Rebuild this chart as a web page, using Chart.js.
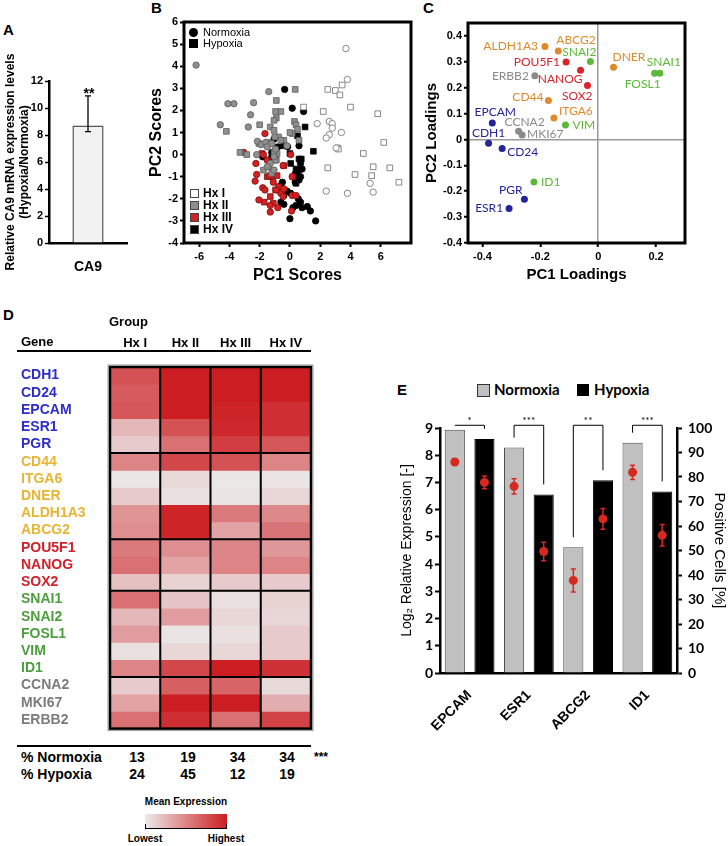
<!DOCTYPE html>
<html>
<head>
<meta charset="utf-8">
<script src="https://cdn.jsdelivr.net/npm/chart.js@4.4.1/dist/chart.umd.min.js"></script>
<style>
body{margin:0;width:728px;height:846px;position:relative;background:#fff;font-family:'Liberation Sans',Arial,sans-serif;overflow:hidden}
canvas{position:absolute}
.t{position:absolute;white-space:nowrap;line-height:1;color:#000}
.b{font-weight:bold}
</style>
</head>
<body>
<div class="t b" style="left:3px;top:22px;font-size:15px">A</div>
<div class="t b" style="left:151px;top:0px;font-size:15px">B</div>
<div class="t b" style="left:423px;top:0px;font-size:15px">C</div>
<div class="t b" style="left:3px;top:307px;font-size:15px">D</div>
<div class="t b" style="left:397px;top:382px;font-size:15px">E</div>

<canvas id="cA" width="130" height="260" style="left:0;top:30px"></canvas>
<canvas id="cB" width="280" height="280" style="left:140px;top:10px"></canvas>
<canvas id="cC" width="300" height="280" style="left:412px;top:10px"></canvas>
<canvas id="cD" width="330" height="420" style="left:0;top:320px"></canvas>
<canvas id="cE" width="348" height="330" style="left:380px;top:405px"></canvas>

<!-- B legends -->
<div style="position:absolute;left:189px;top:28px;width:9px;height:9px;border-radius:50%;background:#000"></div>
<div class="t" style="left:203px;top:27px;font-size:11px">Normoxia</div>
<div style="position:absolute;left:189px;top:39px;width:9px;height:9px;background:#000"></div>
<div class="t" style="left:203px;top:38px;font-size:11px">Hypoxia</div>
<div id="hxLegend"></div>

<!-- D header and table -->
<div class="t b" style="left:109px;top:315px;font-size:13px">Group</div>
<div class="t b" style="left:21px;top:335px;font-size:13px">Gene</div>
<div style="position:absolute;left:17px;top:350px;width:294px;height:2px;background:#000"></div>
<div style="position:absolute;left:17px;top:745px;width:294px;height:2px;background:#000"></div>
<div id="pctRows"></div>
<div class="t b" style="left:314px;top:751px;font-size:12px">***</div>
<div class="t b" style="left:126px;top:797px;width:120px;text-align:center;font-size:10px">Mean Expression</div>
<div style="position:absolute;left:145px;top:814px;width:82px;height:14px;background:linear-gradient(to right,rgb(236,234,234),rgb(204,30,34))"></div>
<div style="position:absolute;left:145px;top:828px;width:82px;height:1px;background:#000"></div>
<div style="position:absolute;left:145px;top:824px;width:1px;height:5px;background:#000"></div>
<div style="position:absolute;left:226px;top:824px;width:1px;height:5px;background:#000"></div>
<div class="t b" style="left:115px;top:834px;width:60px;text-align:center;font-size:10px">Lowest</div>
<div class="t b" style="left:196px;top:834px;width:60px;text-align:center;font-size:10px">Highest</div>

<!-- E legend -->
<div style="position:absolute;left:477px;top:384px;width:11px;height:11px;background:#c0c0c0;border:1px solid #333"></div>
<div class="t b" style="left:494px;top:382px;font-size:15px;font-family:Lato,sans-serif">Normoxia</div>
<div style="position:absolute;left:577px;top:384px;width:12px;height:12px;background:#000"></div>
<div class="t b" style="left:594px;top:382px;font-size:15px;font-family:Lato,sans-serif">Hypoxia</div>

<script>
// ---------- A: CA9 ----------
var caLabels = ['CA9']
var caValue = [8.7]
var caErrLow = [8.25]
var caErrHigh = [10.9]
var caSig = ['**']
var aTicks = [0, 2, 4, 6, 8, 10, 12]

// ---------- B: PCA scores (Normoxia = circles, Hypoxia = squares) ----------
var bXTicks = [-6, -4, -2, 0, 2, 4, 6]
var bYTicks = [-4, -3, -2, -1, 0, 1, 2, 3, 4, 5, 6]
var hx1Normoxia = [[3.7,4.8],[3.8,3.4],[1.8,1.4],[2.6,1.5],[2.8,1.4],[2.8,1.2],[3.4,1.0],[2.6,0.9],[2.4,0.75],[3.05,0.3],[2.4,-1.65],[3.8,-1.75],[5.3,-1.3],[5.5,-1.7]]
var hx1Hypoxia = [[0.9,2.15],[2.2,1.95],[2.5,2.95],[3.0,2.9],[3.3,2.7],[3.45,3.15],[4.0,2.15],[3.15,0.3],[3.2,0.25],[2.5,-0.6],[4.3,-0.9],[4.85,0.05],[5.8,1.85],[6.2,0.55],[5.5,-0.55],[6.6,-0.6],[5.4,-0.95],[7.2,-1.25]]
var hx2Normoxia = [[-6.2,4.05],[-4.6,1.35],[-4.1,2.3],[-3.7,2.3],[-2.4,2.35],[-2.6,1.8],[-2.75,1.25],[-1.4,2.85],[-2.15,0.6],[-1.9,0.45],[-2.2,0],[-1.6,0.55],[-1.5,0.35],[-1.2,0.5],[-0.95,0.25],[-1.3,-0.4],[-1.5,-0.55],[-1.05,-0.7],[-0.95,-0.25],[-0.2,0.4],[-0.6,0.65],[-1.05,-0.1]]
var hx2Hypoxia = [[-4.2,1.05],[-3.3,0.1],[-2.85,0],[-2.0,1.35],[-1.3,1.25],[-1.05,1.1],[-0.9,2.45],[-0.9,1.65],[-0.6,1.95],[-0.95,1.95],[-1.05,1.55],[0.35,2.95],[0.3,1.5],[0.4,1.35],[0.5,1.15],[0.15,0.95],[0,1.0],[-0.75,0.8],[-1.0,0.8],[0.6,0.65],[-1.5,0.55],[-2.05,0.5],[-1.4,-0.55],[-0.9,-0.25],[-0.85,0.05],[-1.05,0.1],[-1.2,-0.85],[-1.75,-0.7],[-0.4,0.65]]
var hx3Normoxia = [[-3.05,0.1],[-1.65,0.95],[-2.25,-0.4],[-2.2,-0.9],[-2.3,-1.2],[-1.8,-1.5],[-1.65,-1.6],[-2.05,-2.05],[-1.5,-0.25],[-1.75,0],[-1.3,-2.3],[-1.3,-2.6],[-0.8,-2.4],[-0.6,-1.75],[-0.45,-1.9],[-0.9,-1.6],[-0.4,-1.55],[0.05,0],[0.15,-1.85],[0.1,-2.55],[0.4,-1.85],[-1.1,-1.25],[-1.35,-0.95],[-0.45,-0.5],[0.15,-1.0]]
var hx3Hypoxia = [[-1.15,-1.0],[-1.5,-1.0],[-0.85,-0.95],[-0.95,-1.6],[-0.75,-1.45],[-0.5,-1.7],[-1.3,-1.9],[-0.4,-0.5],[0.2,-1.0],[-1.85,0.05],[-1.1,-2.2],[-1.7,-2.15]]
var hx4Normoxia = [[-0.35,2.95],[0.15,2.1],[0.9,1.95],[-1.05,0.7],[-1.2,0.1],[-0.8,0.35],[-0.95,0],[0.6,0.4],[-0.15,0.35],[0.7,-0.4],[0.8,-0.65],[0.6,-0.7],[0.5,-0.95],[0.6,-1.15],[0.7,-1.0],[0.35,-1.25],[-0.5,-1.25],[-0.6,-1.4],[-0.4,-1.85],[-0.2,-1.65],[0.05,-1.75],[0.55,-2.0],[0.7,-2.15],[0.8,-2.4],[1.15,-2.35],[1.35,-2.55],[1.7,-3.0],[0,-2.9],[0.4,-2.3],[0.2,-2.4],[-0.6,-2.15],[-1.8,-0.1],[-1.2,-0.1],[-0.4,-2.25]]
var hx4Hypoxia = [[1.0,1.25],[0.5,0.85],[-0.45,0.4],[0,0.05],[0.6,-0.2],[0.75,-0.2],[1.55,0.15],[0.05,-0.4],[0.35,-0.9],[0.45,-1.05],[0.4,-1.3],[0.4,-0.65]]
var hxNames = ['Hx I', 'Hx II', 'Hx III', 'Hx IV']

// ---------- C: PCA loadings ----------
var cGenes = ['ALDH1A3','ABCG2','SNAI2','POU5F1','NANOG','SOX2','ERBB2','CD44','ITGA6','VIM','CCNA2','MKI67','EPCAM','CDH1','CD24','ID1','PGR','ESR1','DNER','SNAI1','FOSL1']
var cPc1 = [-0.184,-0.138,-0.027,-0.111,-0.061,-0.037,-0.219,-0.172,-0.153,-0.113,-0.275,-0.263,-0.366,-0.379,-0.332,-0.222,-0.255,-0.308,0.053,0.213,0.195]
var cPc2 = [0.359,0.342,0.301,0.299,0.267,0.209,0.246,0.151,0.083,0.056,0.032,0.017,0.064,-0.015,-0.035,-0.164,-0.231,-0.267,0.279,0.256,0.256]
var cGroup = [1,1,3,2,2,2,4,1,1,3,4,4,0,0,0,3,0,0,1,3,3]
var cXTicks = [-0.4, -0.2, 0, 0.2]
var cYTicks = [-0.4, -0.3, -0.2, -0.1, 0, 0.1, 0.2, 0.3, 0.4]

// ---------- D: heatmap ----------
var genes = ['CDH1','CD24','EPCAM','ESR1','PGR','CD44','ITGA6','DNER','ALDH1A3','ABCG2','POU5F1','NANOG','SOX2','SNAI1','SNAI2','FOSL1','VIM','ID1','CCNA2','MKI67','ERBB2']
var geneGroup = [0,0,0,0,0,1,1,1,1,1,2,2,2,3,3,3,3,3,4,4,4]
var groups = ['Hx I', 'Hx II', 'Hx III', 'Hx IV']
var heatHxI = [0.75,0.7,0.72,0.25,0.15,0.5,0.02,0.15,0.42,0.45,0.55,0.6,0.2,0.6,0.25,0.38,0.05,0.5,0.15,0.35,0.6]
var heatHxII = [1,1,1,0.75,0.6,0.8,0.08,0.05,0.97,0.97,0.45,0.35,0.12,0.18,0.38,0.03,0.1,0.8,0.68,1,0.92]
var heatHxIII = [1,1,0.97,0.95,0.85,0.75,0.02,0.03,0.55,0.35,0.5,0.5,0.15,0.05,0.1,0.05,0.1,1,0.65,1,0.6]
var heatHxIV = [1,1,0.92,0.92,0.72,0.5,0.03,0.1,0.48,0.58,0.4,0.5,0.15,0.12,0.1,0.15,0.15,0.9,0.08,0.3,0.82]
var pctNormoxia = [13, 19, 34, 34]
var pctHypoxia = [24, 45, 12, 19]

// ---------- E: marker expression ----------
var eGenes = ['EPCAM', 'ESR1', 'ABCG2', 'ID1']
var eNormoxia = [8.94, 8.28, 4.62, 8.46]
var eHypoxia = [8.6, 6.56, 7.08, 6.67]
var eCellsN = [86.1, 76.2, 37.8, 81.9]
var eCellsNErr = [1.3, 3.1, 4.7, 2.9]
var eCellsH = [77.8, 49.6, 62.9, 56.2]
var eCellsHErr = [2.6, 3.8, 4.2, 4.4]
var eSig = ['*', '***', '**', '***']

var F = "'Liberation Sans', Arial, sans-serif"
var FC = "Lato, 'Liberation Sans', sans-serif"
var geneColD = ['#2d2dc8', '#e6b533', '#d3202a', '#4d9e3d', '#7b7b7b']
var geneColC = ['#24249a', '#dd8a2e', '#d8232a', '#5cb83a', '#8a8a8a']

Chart.defaults.animation = false
Chart.defaults.responsive = false
Chart.defaults.devicePixelRatio = 1
Chart.defaults.color = '#000'
Chart.defaults.plugins.legend.display = false
Chart.defaults.plugins.tooltip.enabled = false

function bold(size, fam) { return { family: fam || F, size: size, weight: 'bold' } }

// ---- A ----
var aExtras = {
  id: 'aExtras',
  afterDatasetsDraw: function (c) {
    var ctx = c.ctx, x = c.scales.x, y = c.scales.y
    caLabels.forEach(function (l, i) {
      var px = x.getPixelForValue(i)
      var lo = y.getPixelForValue(caErrLow[i]), hi = y.getPixelForValue(caErrHigh[i])
      ctx.save()
      ctx.strokeStyle = '#000'; ctx.lineWidth = 1.3
      ctx.beginPath()
      ctx.moveTo(px, lo); ctx.lineTo(px, hi)
      ctx.moveTo(px - 3, lo); ctx.lineTo(px + 3, lo)
      ctx.moveTo(px - 3, hi); ctx.lineTo(px + 3, hi)
      ctx.stroke()
      ctx.font = 'bold 14px ' + F; ctx.textAlign = 'center'; ctx.fillStyle = '#000'
      ctx.fillText(caSig[i], px + 1, hi + 2)
      ctx.restore()
    })
  }
}
new Chart(document.getElementById('cA'), {
  type: 'bar',
  data: { labels: caLabels, datasets: [{ data: caValue, backgroundColor: '#f2f2f2', borderColor: '#555', borderWidth: 1.5, borderSkipped: 'bottom', barPercentage: 0.4, categoryPercentage: 1 }] },
  options: {
    layout: { padding: { top: 51, right: 3, left: 0, bottom: 0 } },
    scales: {
      x: { grid: { display: false }, border: { color: '#000', width: 2.5 }, ticks: { padding: 8, font: bold(14) }, afterFit: function (s) { s.height = 47 } },
      y: { min: 0, max: 12, afterBuildTicks: function (s) { s.ticks = aTicks.map(function (v) { return { value: v } }) },
        grid: { drawOnChartArea: false, tickLength: 4, tickColor: '#000', tickWidth: 1.5 }, border: { color: '#000', width: 2.5 },
        ticks: { padding: 2, font: bold(11) },
        title: { display: true, text: ['Relative CA9 mRNA expression levels', '(Hypoxia/Normoxia)'], font: bold(12), padding: { top: 3, bottom: 0 } },
        afterFit: function (s) { s.width = 49 } }
    }
  },
  plugins: [aExtras]
})

// ---- B ----
var frame = {
  id: 'frame',
  afterDatasetsDraw: function (c, args, opts) {
    var a = c.chartArea, ctx = c.ctx
    ctx.save(); ctx.strokeStyle = '#000'; ctx.lineWidth = opts.width || 3
    ctx.strokeRect(a.left, a.top, a.right - a.left, a.bottom - a.top)
    ctx.restore()
  }
}
var hxStyle = [
  { fill: '#ffffff', line: '#6a6a6a' },
  { fill: '#8f8f8f', line: '#5a5a5a' },
  { fill: '#d42020', line: '#7a1010' },
  { fill: '#000000', line: '#000000' }
]
var hxSets = [[hx1Normoxia, hx1Hypoxia], [hx2Normoxia, hx2Hypoxia], [hx3Normoxia, hx3Hypoxia], [hx4Normoxia, hx4Hypoxia]]
var bDatasets = []
hxSets.forEach(function (pair, g) {
  pair.forEach(function (pts, k) {
    bDatasets.push({
      label: hxNames[g] + (k ? ' Hypoxia' : ' Normoxia'),
      data: pts.map(function (p) { return { x: p[0], y: p[1] } }),
      pointStyle: k ? 'rect' : 'circle',
      pointRadius: k ? 4 : 3.2,
      backgroundColor: hxStyle[g].fill, borderColor: hxStyle[g].line, borderWidth: 0.8
    })
  })
})
new Chart(document.getElementById('cB'), {
  type: 'scatter',
  data: { datasets: bDatasets },
  options: {
    layout: { padding: { top: 12, right: 9, left: 0, bottom: 0 } },
    scales: {
      x: { min: -7, max: 8, afterBuildTicks: function (s) { s.ticks = bXTicks.map(function (v) { return { value: v } }) },
        grid: { drawOnChartArea: false, tickLength: 4, tickColor: '#000', tickWidth: 2 }, border: { display: false },
        ticks: { padding: 3, font: bold(11) },
        title: { display: true, text: 'PC1 Scores', font: bold(16), padding: { top: 0, bottom: 5 } },
        afterFit: function (s) { s.height = 47 } },
      y: { min: -4, max: 6, afterBuildTicks: function (s) { s.ticks = bYTicks.map(function (v) { return { value: v } }) },
        grid: { drawOnChartArea: false, tickLength: 4, tickColor: '#000', tickWidth: 2 }, border: { display: false },
        ticks: { padding: 2, font: bold(11) },
        title: { display: true, text: 'PC2 Scores', font: bold(16), padding: { top: 7, bottom: 0 } },
        afterFit: function (s) { s.width = 44 } }
    },
    plugins: { frame: { width: 3 } }
  },
  plugins: [frame]
})
var hxLeg = ''
hxNames.forEach(function (n, g) {
  var top = 189 + g * 12
  hxLeg += '<div style="position:absolute;left:190px;top:' + top + 'px;width:7px;height:7px;background:' + hxStyle[g].fill + ';border:1px solid #444"></div>'
  hxLeg += '<div class="t b" style="left:203px;top:' + (top - 2) + 'px;font-size:12px">' + n + '</div>'
})
document.getElementById('hxLegend').innerHTML = hxLeg

// ---- C ----
var cPlace = {
  ALDH1A3: ['right', -7, 0], ABCG2: ['left', -2, -11], SNAI2: ['right', 6, -9], POU5F1: ['right', -6, 0],
  NANOG: ['right', 2, 9], SOX2: ['right', 5, 11], ERBB2: ['right', -6, 0], CD44: ['right', -5, -3],
  ITGA6: ['left', 5, -7], VIM: ['left', 7, 0], CCNA2: ['center', 6, -9], MKI67: ['left', 5, -1],
  EPCAM: ['center', 3, -11], CDH1: ['center', 0, -10], CD24: ['left', 5, 4], ID1: ['left', 7, 0],
  PGR: ['right', -2, -9], ESR1: ['right', -6, 0], DNER: ['left', -1, -10], SNAI1: ['center', 4, -11], FOSL1: ['center', -12, 11]
}
var cLabels = {
  id: 'cLabels',
  afterDatasetsDraw: function (c) {
    var ctx = c.ctx, meta = c.getDatasetMeta(0)
    ctx.save(); ctx.font = '12px ' + FC; ctx.textBaseline = 'middle'
    meta.data.forEach(function (pt, i) {
      var p = cPlace[cGenes[i]]
      ctx.fillStyle = geneColC[cGroup[i]]; ctx.textAlign = p[0]
      ctx.fillText(cGenes[i], pt.x + p[1], pt.y + p[2])
    })
    ctx.restore()
  }
}
var zeroLine = function (ctx) { return ctx.tick && ctx.tick.value === 0 ? '#9a9a9a' : 'rgba(0,0,0,0)' }
new Chart(document.getElementById('cC'), {
  type: 'scatter',
  data: { datasets: [{ data: cPc1.map(function (v, i) { return { x: v, y: cPc2[i] } }), pointRadius: 3.5, borderWidth: 0,
    backgroundColor: cGroup.map(function (g) { return geneColC[g] }) }] },
  options: {
    layout: { padding: { top: 13, right: 27, left: 0, bottom: 0 } },
    scales: {
      x: { min: -0.45, max: 0.3, afterBuildTicks: function (s) { s.ticks = cXTicks.map(function (v) { return { value: v } }) },
        grid: { color: zeroLine, lineWidth: 1.5, tickLength: 4, tickColor: '#000', tickWidth: 2 }, border: { display: false },
        ticks: { padding: 3, font: bold(11), callback: function (v) { return String(v) } },
        title: { display: true, text: 'PC1 Loadings', font: bold(15), padding: { top: 0, bottom: 6 } },
        afterFit: function (s) { s.height = 47 } },
      y: { min: -0.4, max: 0.45, afterBuildTicks: function (s) { s.ticks = cYTicks.map(function (v) { return { value: v } }) },
        grid: { color: zeroLine, lineWidth: 1.5, tickLength: 4, tickColor: '#000', tickWidth: 2 }, border: { display: false },
        ticks: { padding: 2, font: bold(11), callback: function (v) { return String(v) } },
        title: { display: true, text: 'PC2 Loadings', font: bold(15), padding: { top: 11, bottom: 0 } },
        afterFit: function (s) { s.width = 56 } }
    },
    plugins: { frame: { width: 3 } }
  },
  plugins: [frame, cLabels]
})

// ---- D ----
function heatColor(v) {
  var lo = [236, 234, 234], hi = [204, 30, 34]
  return 'rgb(' + lo.map(function (c, i) { return Math.round(c + (hi[i] - c) * v) }).join(',') + ')'
}
var heatCols = [heatHxI, heatHxII, heatHxIII, heatHxIV]
var dGrid = {
  id: 'dGrid',
  afterDatasetsDraw: function (c) {
    var ctx = c.ctx, a = c.chartArea, x = c.scales.x, y = c.scales.y
    ctx.save()
    ctx.strokeStyle = '#000'; ctx.lineWidth = 2
    ctx.beginPath()
    for (var i = 1; i < groups.length; i++) {
      var px = (x.getPixelForValue(i - 1) + x.getPixelForValue(i)) / 2
      ctx.moveTo(px, a.top); ctx.lineTo(px, a.bottom)
    }
    for (var g = 1; g < genes.length; g++) {
      if (geneGroup[g] !== geneGroup[g - 1]) {
        var py = y.getPixelForValue(g)
        ctx.moveTo(a.left, py); ctx.lineTo(a.right, py)
      }
    }
    ctx.stroke()
    ctx.strokeStyle = '#9a9a9a'; ctx.lineWidth = 1
    ctx.strokeRect(a.left - 2, a.top - 2, a.right - a.left + 4, a.bottom - a.top + 4)
    ctx.strokeStyle = '#000'; ctx.lineWidth = 2.5
    ctx.strokeRect(a.left, a.top, a.right - a.left, a.bottom - a.top)
    ctx.restore()
  }
}
new Chart(document.getElementById('cD'), {
  type: 'bar',
  data: {
    labels: groups,
    datasets: genes.map(function (g, gi) {
      return { label: g, data: groups.map(function () { return 1 }), borderWidth: 0, barPercentage: 1, categoryPercentage: 1,
        backgroundColor: groups.map(function (_, ci) { return heatColor(heatCols[ci][gi]) }) }
    })
  },
  options: {
    layout: { padding: { top: 0, right: 19, left: 21, bottom: 9 } },
    scales: {
      x: { position: 'top', stacked: true, grid: { display: false }, border: { display: false },
        ticks: { padding: 8, font: bold(13) }, afterFit: function (s) { s.height = 47 } },
      y: { stacked: true, reverse: true, min: 0, max: genes.length,
        afterBuildTicks: function (s) { s.ticks = genes.map(function (g, i) { return { value: i + 0.5 } }) },
        grid: { display: false }, border: { display: false },
        ticks: { crossAlign: 'far', autoSkip: false, font: bold(14),
          callback: function (v, i) { return genes[i] },
          color: function (ctx) { return geneColD[geneGroup[ctx.index]] } },
        afterFit: function (s) { s.width = 89 } }
    }
  },
  plugins: [dGrid]
})
var colCenters = [137, 188, 237.5, 287]
var rows = ''
;[['% Normoxia', pctNormoxia, 750], ['% Hypoxia', pctHypoxia, 767]].forEach(function (r) {
  rows += '<div class="t b" style="left:21px;top:' + r[2] + 'px;font-size:14px">' + r[0] + '</div>'
  r[1].forEach(function (v, i) {
    rows += '<div class="t b" style="left:' + (colCenters[i] - 20) + 'px;width:40px;text-align:center;top:' + r[2] + 'px;font-size:14px">' + v + '</div>'
  })
})
document.getElementById('pctRows').innerHTML = rows

// ---- E ----
// one bar slot per gene and condition (N, H, N, H ...), gene names on a second axis
var eSlots = [], eBars = [], eCells = [], eCellsErr = []
eGenes.forEach(function (g, i) {
  eSlots.push(g + ' N', g + ' H')
  eBars.push(eNormoxia[i], eHypoxia[i])
  eCells.push(eCellsN[i], eCellsH[i])
  eCellsErr.push(eCellsNErr[i], eCellsHErr[i])
})
var eExtras = {
  id: 'eExtras',
  afterDatasetsDraw: function (c) {
    var ctx = c.ctx, xb = c.scales.xb, yl = c.scales.y, yr = c.scales.yr
    ctx.save()
    ctx.strokeStyle = '#d42a20'; ctx.lineWidth = 1.5
    ctx.beginPath()
    eCells.forEach(function (v, k) {
      var px = xb.getPixelForValue(k), lo = yr.getPixelForValue(v - eCellsErr[k]), hi = yr.getPixelForValue(v + eCellsErr[k])
      ctx.moveTo(px, lo); ctx.lineTo(px, hi)
      ctx.moveTo(px - 2.5, lo); ctx.lineTo(px + 2.5, lo)
      ctx.moveTo(px - 2.5, hi); ctx.lineTo(px + 2.5, hi)
    })
    ctx.stroke()
    ctx.strokeStyle = '#000'; ctx.lineWidth = 1
    ctx.fillStyle = '#000'; ctx.font = '10px ' + FC; ctx.textAlign = 'center'
    var top = yl.getPixelForValue(9.1)
    eGenes.forEach(function (g, i) {
      var x1 = xb.getPixelForValue(2 * i), x2 = xb.getPixelForValue(2 * i + 1)
      var y1 = Math.max(top, yl.getPixelForValue(eNormoxia[i]) - 10)
      var y2 = Math.max(top, yl.getPixelForValue(eHypoxia[i]) - 10)
      ctx.beginPath()
      ctx.moveTo(x1, y1); ctx.lineTo(x1, top); ctx.lineTo(x2, top); ctx.lineTo(x2, y2)
      ctx.stroke()
      ctx.fillText(eSig[i], (x1 + x2) / 2, top - 1)
    })
    ctx.restore()
  }
}
new Chart(document.getElementById('cE'), {
  type: 'bar',
  data: {
    labels: eSlots,
    datasets: [
      { label: 'Log2 expression', xAxisID: 'xb', yAxisID: 'y', data: eBars, order: 2,
        backgroundColor: eBars.map(function (v, k) { return k % 2 ? '#000' : '#c0c0c0' }),
        borderColor: eBars.map(function (v, k) { return k % 2 ? '#000' : '#4d4d4d' }),
        borderWidth: 1, barPercentage: 0.68, categoryPercentage: 1 },
      { type: 'line', label: 'Positive cells', xAxisID: 'xb', yAxisID: 'yr', data: eCells, showLine: false, order: 1,
        pointRadius: 4.5, backgroundColor: '#d42a20', borderColor: '#d42a20', borderWidth: 0 }
    ]
  },
  options: {
    layout: { padding: { top: 23, right: 0, left: 0, bottom: 0 } },
    scales: {
      x: { type: 'category', labels: eGenes, offset: true, grid: { display: false }, border: { color: '#000', width: 2.5 },
        ticks: { minRotation: 45, maxRotation: 45, padding: 6, font: bold(14) }, afterFit: function (s) { s.height = 62 } },
      xb: { type: 'category', display: false, offset: true },
      y: { position: 'left', min: 0, max: 9, ticks: { stepSize: 1, padding: 2, font: bold(14, FC) },
        grid: { drawOnChartArea: false, tickLength: 5, tickColor: '#000', tickWidth: 2 }, border: { color: '#000', width: 2.5 },
        title: { display: true, text: 'Log\u2082 Relative Expression [-]', font: { family: F, size: 14 }, padding: { top: 19, bottom: 0 } },
        afterFit: function (s) { s.width = 60 } },
      yr: { position: 'right', min: 0, max: 100, ticks: { stepSize: 10, padding: 6, font: bold(14, FC) },
        grid: { drawOnChartArea: false, tickLength: 5, tickColor: '#000', tickWidth: 2 }, border: { color: '#000', width: 2.5 },
        title: { display: true, text: 'Positive Cells [%]', font: { family: F, size: 15 }, padding: { top: 0, bottom: 0 } },
        afterFit: function (s) { s.width = 51 } }
    }
  },
  plugins: [eExtras]
})
</script>
</body>
</html>
